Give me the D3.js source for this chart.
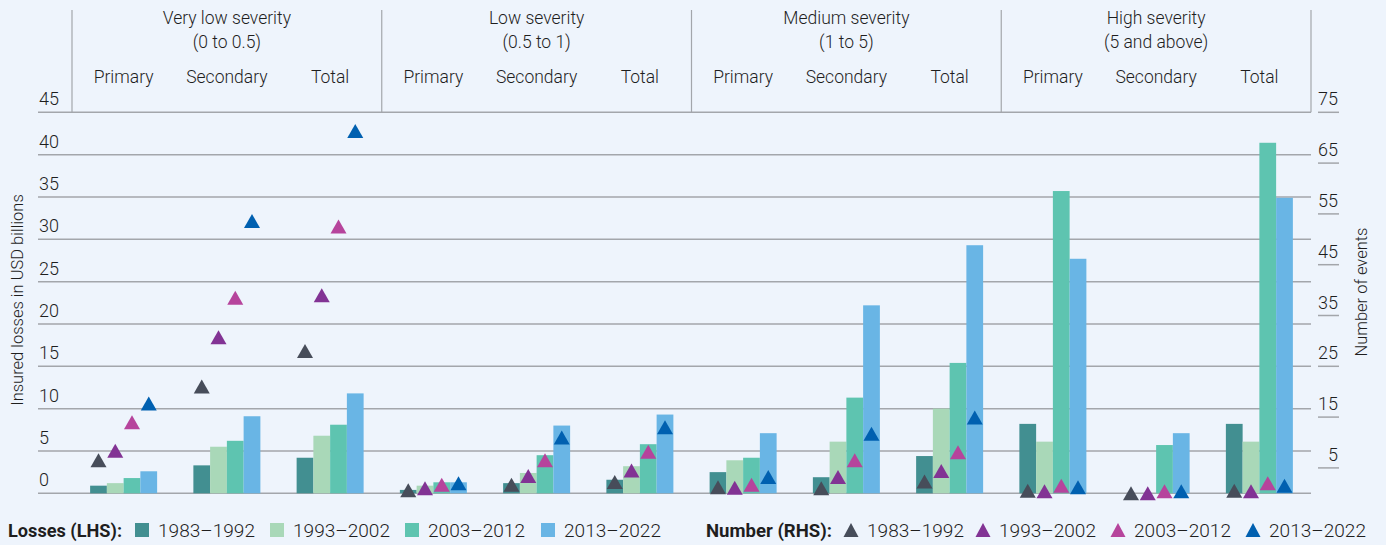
<!DOCTYPE html>
<html><head><meta charset="utf-8">
<script src="https://cdn.jsdelivr.net/npm/d3@7"></script>
<style>
html,body{margin:0;padding:0;background:#eef4fc;}
svg{display:block;}
text{font-family:Roboto,"Liberation Sans",Arial,sans-serif;fill:#1e1e1e;}
</style></head>
<body>
<svg id="chart" width="1386" height="545"></svg>
<script>
const severities = ["Very low severity","Low severity","Medium severity","High severity"];
const ranges = ["(0 to 0.5)","(0.5 to 1)","(1 to 5)","(5 and above)"];
const types = ["Primary","Secondary","Total"];
const periods = ["1983–1992","1993–2002","2003–2012","2013–2022"];

// Losses (LHS), USD bn; order: severity x [Primary, Secondary, Total]
const loss1983 = [0.9,3.3,4.2, 0.4,1.2,1.6, 2.5,1.9,4.4, 8.2,0,8.2];
const loss1993 = [1.2,5.5,6.8, 0.9,2.4,3.2, 3.9,6.1,10.0, 6.1,0,6.1];
const loss2003 = [1.8,6.2,8.1, 1.3,4.5,5.8, 4.2,11.3,15.4, 35.7,5.7,41.4];
const loss2013 = [2.6,9.1,11.8, 1.3,8.0,9.3, 7.1,22.2,29.3, 27.7,7.1,34.9];

// Number of events (RHS)
const num1983 = [6.5,21,28, 0.6,1.7,2.2, 1.2,1.0,2.3, 0.5,0,0.5];
const num1993 = [8.4,30.7,39, 1.0,3.4,4.5, 1.1,3.2,4.4, 0.4,0,0.4];
const num2003 = [14,38.5,52.5, 1.7,6.5,8.2, 1.7,6.5,8.1, 1.5,0.4,2.0];
const num2013 = [17.7,53.6,71.3, 2.0,11,13, 3.2,11.7,14.9, 1.2,0.4,1.5];

const leftTicks = [0,5,10,15,20,25,30,35,40,45];
const rightTicks = [5,15,25,35,45,55,65,75];

const lossSeries = [loss1983,loss1993,loss2003,loss2013];
const numSeries = [num1983,num1993,num2003,num2013];
const barColors = ["#428f91","#a9d8b8","#5ec4b0","#69b5e5"];
const triColors = ["#474d5a","#823394","#b6449c","#0060b0"];

const svg = d3.select("#chart");
const yL = d3.scaleLinear().domain([0,45]).range([493.3,112.3]);
const yR = d3.scaleLinear().domain([0,75]).range([493.3,112.3]);
const xSev = d3.scaleBand().domain(severities).range([72,1311]);
const xType = d3.scaleBand().domain(types).range([0,xSev.bandwidth()]);
const innerW = 67;
const xPer = d3.scaleBand().domain(periods).range([(xType.bandwidth()-innerW)/2,(xType.bandwidth()+innerW)/2]);

const grid = "#a3a6ab";
// gridlines
svg.append("g").selectAll("line").data(leftTicks).join("line")
  .attr("x1",38).attr("x2",1311).attr("y1",d=>yL(d)).attr("y2",d=>yL(d))
  .attr("stroke",grid).attr("stroke-width",1.5);
// left labels
svg.append("g").selectAll("text").data(leftTicks).join("text")
  .attr("x",39).attr("y",d=>yL(d)-7).attr("font-size",18).attr("font-weight",300).text(d=>d);
// right ticks + labels
svg.append("g").selectAll("line").data(rightTicks).join("line")
  .attr("x1",1318).attr("x2",1339).attr("y1",d=>yR(d)).attr("y2",d=>yR(d))
  .attr("stroke",grid).attr("stroke-width",1.5);
svg.append("g").selectAll("text").data(rightTicks).join("text")
  .attr("x",1338).attr("y",d=>yR(d)-7).attr("text-anchor","end").attr("font-size",18).attr("font-weight",300).text(d=>d);

// header separators
const seps = severities.map(s=>xSev(s)).concat([xSev.range()[1]]);
svg.append("g").selectAll("line").data(seps).join("line")
  .attr("x1",d=>d).attr("x2",d=>d).attr("y1",10).attr("y2",112.3)
  .attr("stroke",grid).attr("stroke-width",1.2);
// header text
const hdr = svg.append("g");
severities.forEach((s,i)=>{
  const cx = xSev(s)+xSev.bandwidth()/2;
  hdr.append("text").attr("x",cx).attr("y",24).attr("text-anchor","middle").attr("font-size",17.5).attr("font-weight",300).text(s);
  hdr.append("text").attr("x",cx).attr("y",48).attr("text-anchor","middle").attr("font-size",17.5).attr("font-weight",300).text(ranges[i]);
  types.forEach(t=>{
    hdr.append("text").attr("x",xSev(s)+xType(t)+xType.bandwidth()/2).attr("y",83)
      .attr("text-anchor","middle").attr("font-size",17.5).attr("font-weight",300).text(t);
  });
});

// bars
const cells = [];
severities.forEach((s,si)=>types.forEach((t,ti)=>cells.push({s,t,idx:si*3+ti})));
periods.forEach((p,pi)=>{
  svg.append("g").selectAll("rect").data(cells).join("rect")
    .attr("x",d=>xSev(d.s)+xType(d.t)+xPer(p))
    .attr("width",xPer.bandwidth())
    .attr("y",d=>yL(lossSeries[pi][d.idx]))
    .attr("height",d=>yL(0)-yL(lossSeries[pi][d.idx]))
    .attr("fill",barColors[pi]);
});
// triangles
const tri = "M0,-7L8,7L-8,7Z";
periods.forEach((p,pi)=>{
  svg.append("g").selectAll("path").data(cells).join("path")
    .attr("d",tri)
    .attr("transform",d=>`translate(${xSev(d.s)+xType(d.t)+xPer(p)+xPer.bandwidth()/2},${yR(numSeries[pi][d.idx])})`)
    .attr("fill",triColors[pi]);
});

// axis titles
svg.append("text").attr("transform","translate(23,300) rotate(-90)").attr("text-anchor","middle")
  .attr("font-size",16.5).attr("font-weight",300).text("Insured losses in USD billions");
svg.append("text").attr("transform","translate(1367,292) rotate(-90)").attr("text-anchor","middle")
  .attr("font-size",16.5).attr("font-weight",300).text("Number of events");

// legend
const lg = svg.append("g");
lg.append("text").attr("x",8).attr("y",537).attr("font-size",18).attr("font-weight",700)
  .attr("textLength",114).attr("lengthAdjust","spacingAndGlyphs").text("Losses (LHS):");
const swX = [135,270,405,541];
periods.forEach((p,i)=>{
  lg.append("rect").attr("x",swX[i]).attr("y",523).attr("width",14).attr("height",14).attr("fill",barColors[i]);
  lg.append("text").attr("x",swX[i]+23).attr("y",537).attr("font-size",19).attr("font-weight",300)
    .attr("textLength",97).attr("lengthAdjust","spacingAndGlyphs").text(p);
});
lg.append("text").attr("x",706).attr("y",537).attr("font-size",18).attr("font-weight",700)
  .attr("textLength",126).attr("lengthAdjust","spacingAndGlyphs").text("Number (RHS):");
const trX = [851,983,1118,1253];
periods.forEach((p,i)=>{
  lg.append("path").attr("d","M0,-7L7.5,7L-7.5,7Z").attr("transform",`translate(${trX[i]},530)`).attr("fill",triColors[i]);
  lg.append("text").attr("x",trX[i]+16).attr("y",537).attr("font-size",19).attr("font-weight",300)
    .attr("textLength",97).attr("lengthAdjust","spacingAndGlyphs").text(p);
});
</script>
</body></html>
